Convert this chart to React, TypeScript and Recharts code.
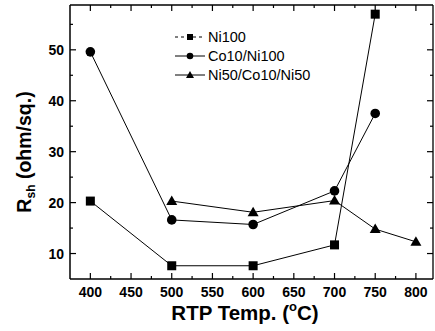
import React from 'react';
import { LineChart, Line, XAxis, YAxis, Legend } from 'recharts';

const temps = [400, 500, 600, 700, 750, 800];
const ni100 = [20.3, 7.6, 7.6, 11.7, 57.0, null];
const co10ni100 = [49.6, 16.6, 15.7, 22.3, 37.5, null];
const ni50co10ni50 = [null, 20.3, 18.1, 20.4, 14.8, 12.3];
const seriesNames = ['Ni100', 'Co10/Ni100', 'Ni50/Co10/Ni50'];
const xTicks = [400, 425, 450, 475, 500, 525, 550, 575, 600, 625, 650, 675, 700, 725, 750, 775, 800];
const yTicks = [10, 15, 20, 25, 30, 35, 40, 45, 50, 55];

const data = temps.map((t, i) => ({ temp: t, a: ni100[i], b: co10ni100[i], c: ni50co10ni50[i] }));

const FONT = 'Arial, "Liberation Sans", sans-serif';

const Square = (p: any) => {
  if (p.cx == null || p.cy == null || p.value == null) return <g />;
  return <rect x={p.cx - 4.5} y={p.cy - 4.5} width={9} height={9} fill="#000" />;
};
const Circle = (p: any) => {
  if (p.cx == null || p.cy == null || p.value == null) return <g />;
  return <circle cx={p.cx} cy={p.cy} r={4.8} fill="#000" />;
};
const Tri = (p: any) => {
  if (p.cx == null || p.cy == null || p.value == null) return <g />;
  return <path d={`M${p.cx},${p.cy - 5.5} L${p.cx + 5.5},${p.cy + 4} L${p.cx - 5.5},${p.cy + 4} Z`} fill="#000" />;
};

const BottomTick = (p: any) => {
  const v = p.payload.value;
  const major = v % 50 === 0;
  return (
    <g>
      <rect x={p.x - 0.6} y={p.y - (major ? 6 : 3)} width={1.2} height={major ? 6 : 3} fill="#000" />
      {major && (
        <text x={p.x} y={p.y + 18} textAnchor="middle" fontFamily={FONT} fontWeight="bold" fontSize={14} fill="#000">
          {v}
        </text>
      )}
    </g>
  );
};
const TopTick = (p: any) => {
  const v = p.payload.value;
  const major = v % 50 === 0;
  return <rect x={p.x - 0.6} y={p.y} width={1.2} height={major ? 6 : 3} fill="#000" />;
};
const LeftTick = (p: any) => {
  const v = p.payload.value;
  const major = v % 10 === 0;
  return (
    <g>
      <rect x={p.x} y={p.y - 0.6} width={major ? 6 : 3} height={1.2} fill="#000" />
      {major && (
        <text x={p.x - 6} y={p.y + 5} textAnchor="end" fontFamily={FONT} fontWeight="bold" fontSize={14} fill="#000">
          {v}
        </text>
      )}
    </g>
  );
};
const RightTick = (p: any) => {
  const v = p.payload.value;
  const major = v % 10 === 0;
  return <rect x={p.x - (major ? 6 : 3)} y={p.y - 0.6} width={major ? 6 : 3} height={1.2} fill="#000" />;
};

const LegendBox = () => {
  const rows = [0, 1, 2];
  return (
    <svg width={160} height={60} style={{ display: 'block' }}>
      {rows.map((i) => {
        const y = 12 + i * 19;
        return (
          <g key={i}>
            <line x1={4} y1={y} x2={34} y2={y} stroke="#000" strokeWidth={1} strokeDasharray={i === 0 ? '3 3' : undefined} />
            {i === 0 && <rect x={16} y={y - 3} width={6} height={6} fill="#000" />}
            {i === 1 && <circle cx={19} cy={y} r={3.3} fill="#000" />}
            {i === 2 && <path d={`M19,${y - 4} L23,${y + 3} L15,${y + 3} Z`} fill="#000" />}
            <text x={37} y={y + 5} fontFamily={FONT} fontSize={14.5} fill="#000">
              {seriesNames[i]}
            </text>
          </g>
        );
      })}
    </svg>
  );
};

const YLabel = () => (
  <text transform="translate(31,152) rotate(-90)" textAnchor="middle" fontFamily={FONT} fontWeight="bold" fontSize={19.5} fill="#000">
    R<tspan fontSize={12} dy={4}>sh</tspan>
    <tspan dy={-4}> (ohm/sq.)</tspan>
  </text>
);
const XLabel = () => (
  <text x={245} y={320} textAnchor="middle" fontFamily={FONT} fontWeight="bold" fontSize={20.5} fill="#000">
    RTP Temp. (<tspan fontSize={13} dy={-9}>o</tspan>
    <tspan dy={9}>C)</tspan>
  </text>
);

export default function App() {
  return (
    <div style={{ position: 'absolute', left: 0, top: 0, width: 435, height: 331, background: '#fff' }}>
      <LineChart width={435} height={331} data={data} margin={{ top: 4, right: 1, bottom: 0, left: 0 }}>
        <XAxis
          xAxisId="b"
          dataKey="temp"
          type="number"
          domain={[375, 821]}
          ticks={xTicks}
          interval={0}
          height={52}
          tickSize={0}
          tickMargin={0}
          tickLine={false}
          tick={<BottomTick />}
          stroke="#000"
          strokeWidth={1.5}
          label={<XLabel />}
        />
        <XAxis
          xAxisId="t"
          orientation="top"
          dataKey="temp"
          type="number"
          domain={[375, 821]}
          ticks={xTicks}
          interval={0}
          height={1}
          tickSize={0}
          tickMargin={0}
          tickLine={false}
          tick={<TopTick />}
          stroke="#000"
          strokeWidth={1.3}
        />
        <YAxis
          yAxisId="l"
          type="number"
          domain={[5, 58.8]}
          ticks={yTicks}
          interval={0}
          width={70}
          tickSize={0}
          tickMargin={0}
          tickLine={false}
          tick={<LeftTick />}
          stroke="#000"
          strokeWidth={1.5}
          allowDataOverflow
          label={<YLabel />}
        />
        <YAxis
          yAxisId="r"
          orientation="right"
          type="number"
          domain={[5, 58.8]}
          ticks={yTicks}
          interval={0}
          width={1}
          tickSize={0}
          tickMargin={0}
          tickLine={false}
          tick={<RightTick />}
          stroke="#000"
          strokeWidth={1.3}
          allowDataOverflow
        />
        <Legend
          layout="vertical"
          align="center"
          verticalAlign="middle"
          content={() => <LegendBox />}
          wrapperStyle={{ position: 'absolute', left: 171, top: 25, width: 160, height: 60 }}
        />
        <Line xAxisId="t" yAxisId="r" dataKey="a" legendType="none" stroke="none" dot={false} activeDot={false} isAnimationActive={false} />
        <Line xAxisId="b" yAxisId="l" dataKey="a" name={seriesNames[0]} stroke="#000" strokeWidth={1} connectNulls dot={<Square />} activeDot={false} isAnimationActive={false} />
        <Line xAxisId="b" yAxisId="l" dataKey="b" name={seriesNames[1]} stroke="#000" strokeWidth={1} connectNulls dot={<Circle />} activeDot={false} isAnimationActive={false} />
        <Line xAxisId="b" yAxisId="l" dataKey="c" name={seriesNames[2]} stroke="#000" strokeWidth={1} connectNulls dot={<Tri />} activeDot={false} isAnimationActive={false} />
      </LineChart>
    </div>
  );
}
